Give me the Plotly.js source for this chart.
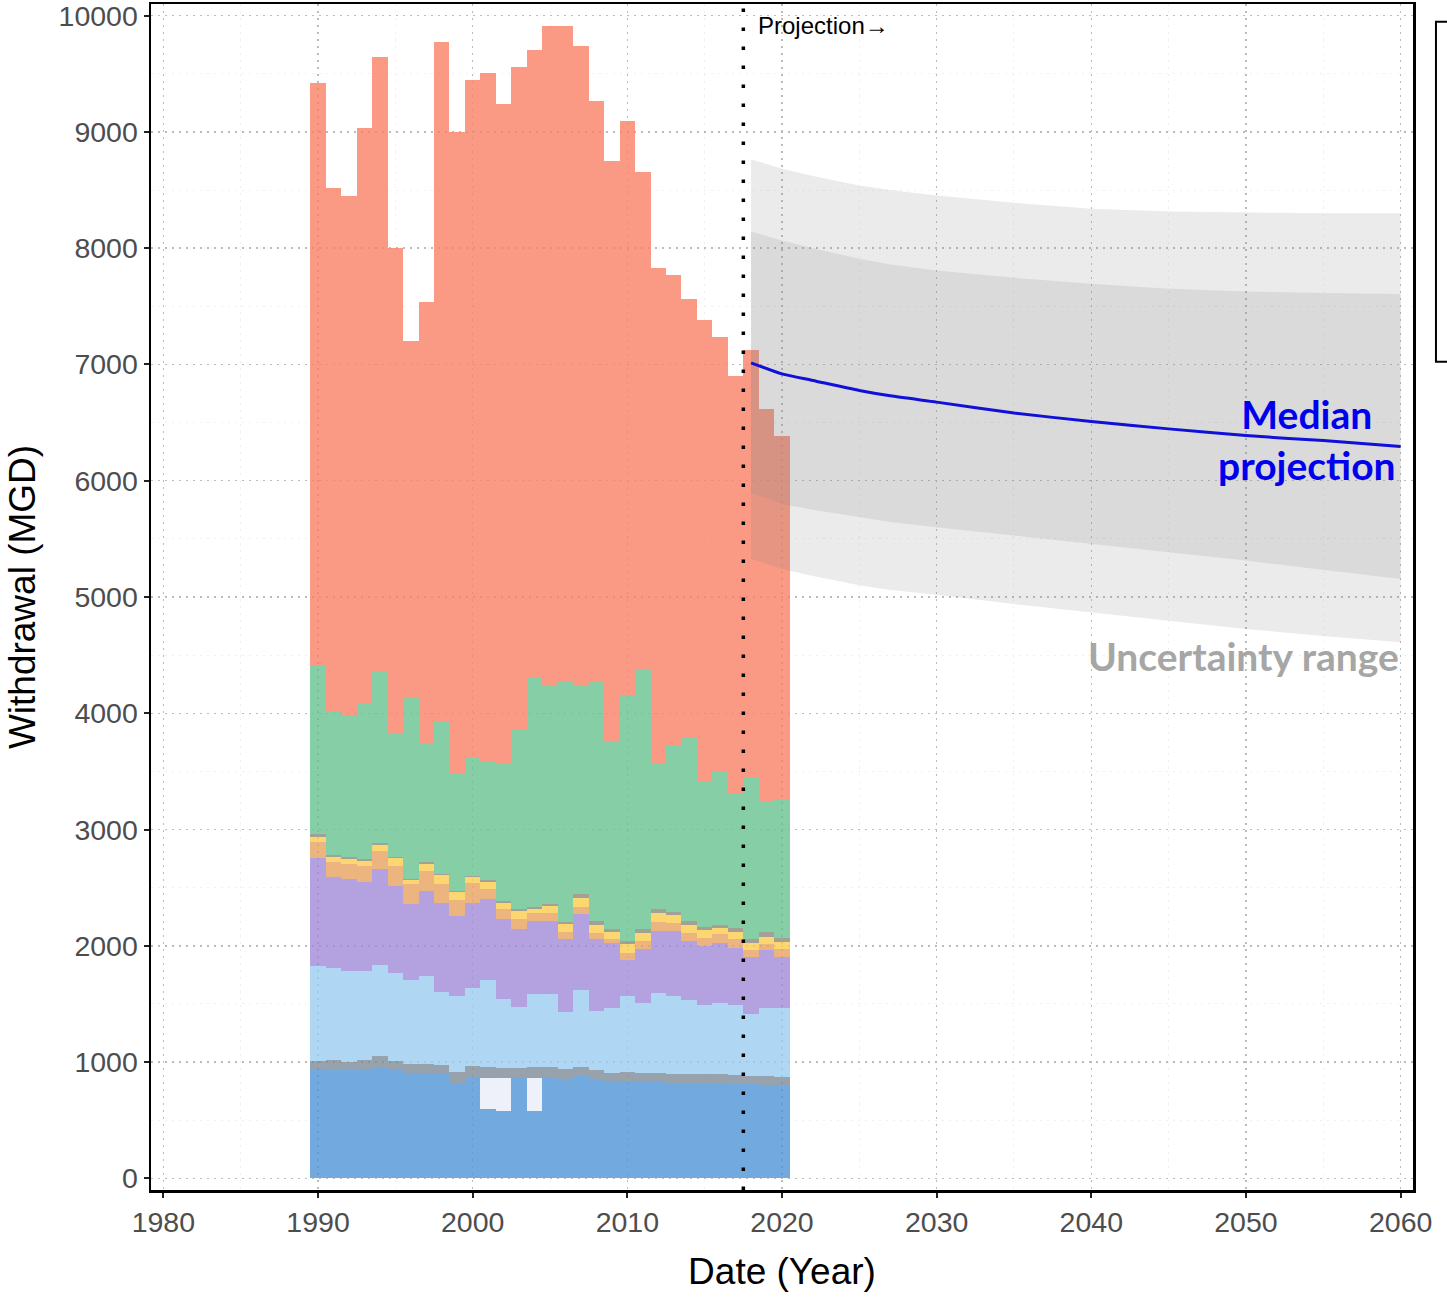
<!DOCTYPE html>
<html>
<head>
<meta charset="utf-8">
<script src="https://cdn.plot.ly/plotly-3.0.1.min.js"></script>
<style>
  html, body { margin: 0; padding: 0; background: #ffffff; }
  #chart { width: 1447px; height: 1297px; }
</style>
</head>
<body>
<div id="chart"></div>
<script>
// ---------------- DATA ----------------
const years = [1990, 1991, 1992, 1993, 1994, 1995, 1996, 1997, 1998, 1999,
               2000, 2001, 2002, 2003, 2004, 2005, 2006, 2007, 2008, 2009,
               2010, 2011, 2012, 2013, 2014, 2015, 2016, 2017, 2018, 2019, 2020];

// stacked withdrawal components (MGD), bottom to top
const darkBlue      = [938, 932, 932, 938, 961, 932, 895, 895, 895, 824,
                       875, 594, 579, 872, 579, 875, 858, 881, 852, 838,
                       838, 832, 830, 824, 824, 824, 818, 815, 809, 803, 801];
const lavender      = [0, 0, 0, 0, 0, 0, 0, 0, 0, 0,
                       0, 266, 281, 0, 281, 0, 0, 0, 0, 0,
                       0, 0, 0, 0, 0, 0, 0, 0, 0, 0, 0];
const darkBlueUpper = [0, 0, 0, 0, 0, 0, 0, 0, 0, 0,
                       0, 15, 6, 0, 15, 0, 0, 0, 0, 0,
                       0, 0, 0, 0, 0, 0, 0, 0, 0, 0, 0];
const greyBand      = [72, 86, 72, 77, 92, 78, 86, 86, 77, 91,
                       91, 83, 86, 80, 83, 83, 80, 77, 80, 71,
                       80, 77, 79, 71, 77, 77, 83, 72, 72, 78, 74];
const lightBlue     = [817, 795, 780, 769, 780, 760, 723, 760, 631, 654,
                       675, 746, 588, 525, 625, 625, 493, 660, 508, 554,
                       651, 603, 689, 674, 631, 588, 611, 602, 530, 588, 594];
const purple        = [928, 783, 795, 761, 826, 746, 654, 732, 769, 688,
                       731, 703, 689, 666, 632, 632, 626, 654, 617, 565,
                       311, 459, 530, 559, 510, 510, 516, 496, 497, 493, 436];
const tan           = [134, 121, 129, 143, 158, 172, 172, 172, 164, 135,
                       170, 86, 86, 92, 66, 66, 63, 58, 57, 35,
                       55, 71, 78, 72, 72, 72, 72, 72, 57, 58, 72];
const yellow        = [51, 48, 43, 43, 52, 66, 35, 63, 72, 67,
                       46, 57, 57, 65, 40, 63, 66, 85, 63, 57,
                       79, 72, 75, 63, 66, 66, 57, 66, 57, 60, 60];
const thinGrey      = [20, 15, 14, 14, 14, 14, 14, 14, 14, 14,
                       12, 17, 15, 21, 17, 14, 20, 29, 38, 23,
                       28, 29, 34, 32, 35, 29, 20, 34, 35, 40, 34];
const green         = [1451, 1229, 1208, 1334, 1483, 1060, 1554, 1024, 1305, 1016,
                       1025, 1019, 1187, 1546, 1967, 1881, 2075, 1795, 2066, 1619,
                       2118, 2233, 1248, 1421, 1572, 1254, 1320, 1153, 1397, 1119, 1188];
const salmon        = [5009, 4511, 4478, 4955, 5277, 4172, 3067, 3788, 5844, 5511,
                       5818, 5920, 5669, 5687, 5401, 5670, 5628, 5504, 4985, 4989,
                       4936, 4281, 4268, 4055, 3778, 3959, 3739, 3595, 3672, 3379, 3129];

// projection (MGD)
const projYears  = [2018, 2020, 2022, 2025, 2027, 2030, 2035, 2040, 2045, 2050, 2055, 2060];
const outerUpper = [8764, 8683, 8620, 8540, 8500, 8454, 8390, 8339, 8315, 8305, 8300, 8300];
const innerUpper = [8144, 8066, 8000, 7909, 7860, 7808, 7745, 7694, 7650, 7627, 7615, 7605];
const median     = [7014, 6919, 6862, 6776, 6730, 6676, 6583, 6509, 6446, 6388, 6345, 6295];
const innerLower = [5895, 5800, 5750, 5686, 5645, 5600, 5525, 5456, 5385, 5313, 5235, 5155];
const outerLower = [5330, 5240, 5180, 5100, 5060, 5020, 4940, 4868, 4795, 4725, 4665, 4610];

const projectionStart = 2017.5;
const xTicks = [1980, 1990, 2000, 2010, 2020, 2030, 2040, 2050, 2060];
const yTicks = [0, 1000, 2000, 3000, 4000, 5000, 6000, 7000, 8000, 9000, 10000];

// ---------------- TRACES ----------------
const layers = [
  [darkBlue,      'rgba(79,148,214,0.8)'],
  [lavender,      'rgba(236,238,249,0.9)'],
  [darkBlueUpper, 'rgba(79,148,214,0.8)'],
  [greyBand,      'rgba(126,139,151,0.8)'],
  [lightBlue,     'rgba(155,205,240,0.8)'],
  [purple,        'rgba(161,138,216,0.8)'],
  [tan,           'rgba(231,161,94,0.8)'],
  [yellow,        'rgba(251,204,78,0.8)'],
  [thinGrey,      'rgba(140,138,124,0.8)'],
  [green,         'rgba(104,194,143,0.8)'],
  [salmon,        'rgba(249,128,101,0.8)']
];

const traces = layers.map(([vals, col]) => ({
  type: 'bar', x: years, y: vals,
  marker: { color: col, line: { width: 0 } },
  hoverinfo: 'skip', showlegend: false
}));

const rev = a => a.slice().reverse();
traces.push({
  type: 'scatter', mode: 'lines',
  x: projYears.concat(rev(projYears)),
  y: outerUpper.concat(rev(outerLower)),
  fill: 'toself', fillcolor: 'rgba(128,128,128,0.16)',
  line: { width: 0 }, hoverinfo: 'skip', showlegend: false
});
traces.push({
  type: 'scatter', mode: 'lines',
  x: projYears.concat(rev(projYears)),
  y: innerUpper.concat(rev(innerLower)),
  fill: 'toself', fillcolor: 'rgba(128,128,128,0.16)',
  line: { width: 0 }, hoverinfo: 'skip', showlegend: false
});
traces.push({
  type: 'scatter', mode: 'lines',
  x: projYears, y: median,
  line: { color: '#1010D8', width: 3, shape: 'spline', smoothing: 0.6 },
  hoverinfo: 'skip', showlegend: false
});

// ---------------- LAYOUT ----------------
const axisCommon = {
  showline: true, mirror: true, linecolor: '#000', linewidth: 2.5,
  ticks: 'outside', ticklen: 5, tickwidth: 2, tickcolor: '#222',
  showgrid: true, gridcolor: '#BBBBBB', gridwidth: 1.5, griddash: '2px,5px',
  zeroline: false, ticklabeloverflow: 'allow',
  tickfont: { family: 'Liberation Sans, Arial, sans-serif', size: 28.5, color: '#4D4D4D' }
};

const layout = {
  width: 1447, height: 1297,
  margin: { l: 151, r: 34, t: 4, b: 107 },
  paper_bgcolor: '#ffffff', plot_bgcolor: '#ffffff',
  barmode: 'stack', bargap: 0,
  showlegend: false,
  xaxis: Object.assign({}, axisCommon, {
    range: [1979.2, 2060.8],
    tickmode: 'array', tickvals: xTicks, ticktext: xTicks.map(String),
    minor: { dtick: 5, tick0: 1985, showgrid: true, gridcolor: '#EFEFEF', gridwidth: 1, ticks: '' },
    title: { text: 'Date (Year)', standoff: 22,
             font: { family: 'Liberation Sans, Arial, sans-serif', size: 37, color: '#000' } }
  }),
  yaxis: Object.assign({}, axisCommon, {
    range: [-100, 10100],
    tickmode: 'array', tickvals: yTicks, ticktext: yTicks.map(String),
    minor: { dtick: 500, tick0: 500, showgrid: true, gridcolor: '#EFEFEF', gridwidth: 1, ticks: '' },
    title: { text: 'Withdrawal (MGD)', standoff: 12,
             font: { family: 'Liberation Sans, Arial, sans-serif', size: 37, color: '#000' } }
  }),
  shapes: [
    { type: 'line', xref: 'x', yref: 'paper', x0: projectionStart, x1: projectionStart, y0: 0, y1: 1,
      line: { color: '#000', width: 3.5, dash: '3.5px,15.5px' } },
    { type: 'rect', xref: 'paper', yref: 'paper',
      x0: 1.0182, x1: 1.06, y0: 0.6984, y1: 0.9851,
      line: { color: '#000', width: 2 }, fillcolor: 'rgba(0,0,0,0)' }
  ],
  annotations: [
    { x: 2018.35, y: 9915, xref: 'x', yref: 'y', xanchor: 'left', yanchor: 'middle',
      text: 'Projection→', showarrow: false,
      font: { family: 'Liberation Sans, Arial, sans-serif', size: 24, color: '#000' } },
    { x: 2059.85, y: 6355, xref: 'x', yref: 'y', xanchor: 'right', yanchor: 'middle',
      text: '<b>Median<br>projection</b>', showarrow: false, align: 'center',
      font: { family: 'Lato, Open Sans, sans-serif', size: 39, color: '#0000EE' } },
    { x: 2060.0, y: 4495, xref: 'x', yref: 'y', xanchor: 'right', yanchor: 'middle',
      text: '<b>Uncertainty range</b>', showarrow: false,
      font: { family: 'Lato, Open Sans, sans-serif', size: 39, color: '#A6A6A6' } }
  ]
};

Plotly.newPlot('chart', traces, layout, { displayModeBar: false, staticPlot: true });
</script>
</body>
</html>
